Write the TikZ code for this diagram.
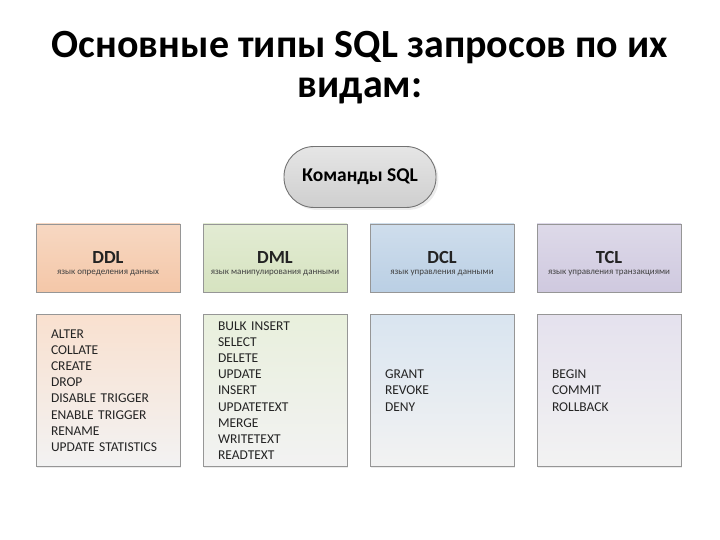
\documentclass[tikz,border=0pt]{standalone}
\usepackage{fontspec}
\setmainfont{Carlito}
\usetikzlibrary{positioning, shadows}

\definecolor{ddlc}{RGB}{244,199,168}
\definecolor{dmlc}{RGB}{214,227,192}
\definecolor{dclc}{RGB}{186,207,228}
\definecolor{tclc}{RGB}{207,201,223}
\definecolor{edgec}{RGB}{150,150,150}
\definecolor{txtc}{RGB}{35,35,35}

\begin{document}
\begin{tikzpicture}[x=1pt, y=-1pt, node distance=167pt]
\tikzstyle{pill} = [rectangle, rounded corners=30pt, draw=gray!90!black, line width=0.9pt,
    top color=gray!20, bottom color=gray!38, minimum width=152pt, minimum height=61pt,
    font=\fontsize{19.5}{24}\selectfont\bfseries, drop shadow={opacity=0.15}]
\tikzstyle{head} = [rectangle, draw=edgec, line width=0.8pt, minimum width=144pt,
    minimum height=68pt, align=center, inner sep=0pt, text=txtc,
    drop shadow={opacity=0.15, shadow xshift=1pt, shadow yshift=-1pt}]
\tikzstyle{cmds} = [rectangle, draw=edgec, line width=0.8pt, minimum width=144pt,
    minimum height=152pt, text width=114pt, align=left, text=txtc,
    bottom color=gray!10, font=\fontsize{13.5}{16.2}\selectfont,
    drop shadow={opacity=0.15, shadow xshift=1pt, shadow yshift=-1pt}]
\newcommand{\headtext}[2]{{\fontsize{18.5}{20}\selectfont\bfseries\rule{0pt}{23pt}#1}\\[-1pt]%
    {\fontsize{9}{10}\selectfont\color{black!75} #2}}

\useasboundingbox (0,0) rectangle (720,540);

 % title
 \node [align=center, anchor=north, font=\fontsize{40}{40}\selectfont\bfseries] (title) at (360,28)
    {Основные типы SQL запросов по их\\видам:};

 \node [pill] (sql) at (360,177) {Команды SQL};

 % headers
 \node [head, top color=ddlc!70!white, bottom color=ddlc] (ddl) at (108,258) {\headtext{DDL}{язык определения данных}};
 \node [head, top color=dmlc!70!white, bottom color=dmlc, right of=ddl] (dml) {\headtext{DML}{язык манипулирования данными}};
 \node [head, top color=dclc!70!white, bottom color=dclc, right of=dml] (dcl) {\headtext{DCL}{язык управления данными}};
 \node [head, top color=tclc!70!white, bottom color=tclc, right of=dcl] (tcl) {\headtext{TCL}{язык управления транзакциями}};

 % command lists
 \node [cmds, top color=ddlc!55!white] (ddllist) at (108,390.5)
    {ALTER\\COLLATE\\CREATE\\DROP\\DISABLE TRIGGER\\ENABLE TRIGGER\\RENAME\\UPDATE STATISTICS};
 \node [cmds, top color=dmlc!55!white, right of=ddllist] (dmllist)
    {BULK INSERT\\SELECT\\DELETE\\UPDATE\\INSERT\\UPDATETEXT\\MERGE\\WRITETEXT\\READTEXT};
 \node [cmds, top color=dclc!55!white, right of=dmllist] (dcllist)
    {GRANT\\REVOKE\\DENY};
 \node [cmds, top color=tclc!55!white, right of=dcllist] (tcllist)
    {BEGIN\\COMMIT\\ROLLBACK};
\end{tikzpicture}
\end{document}
